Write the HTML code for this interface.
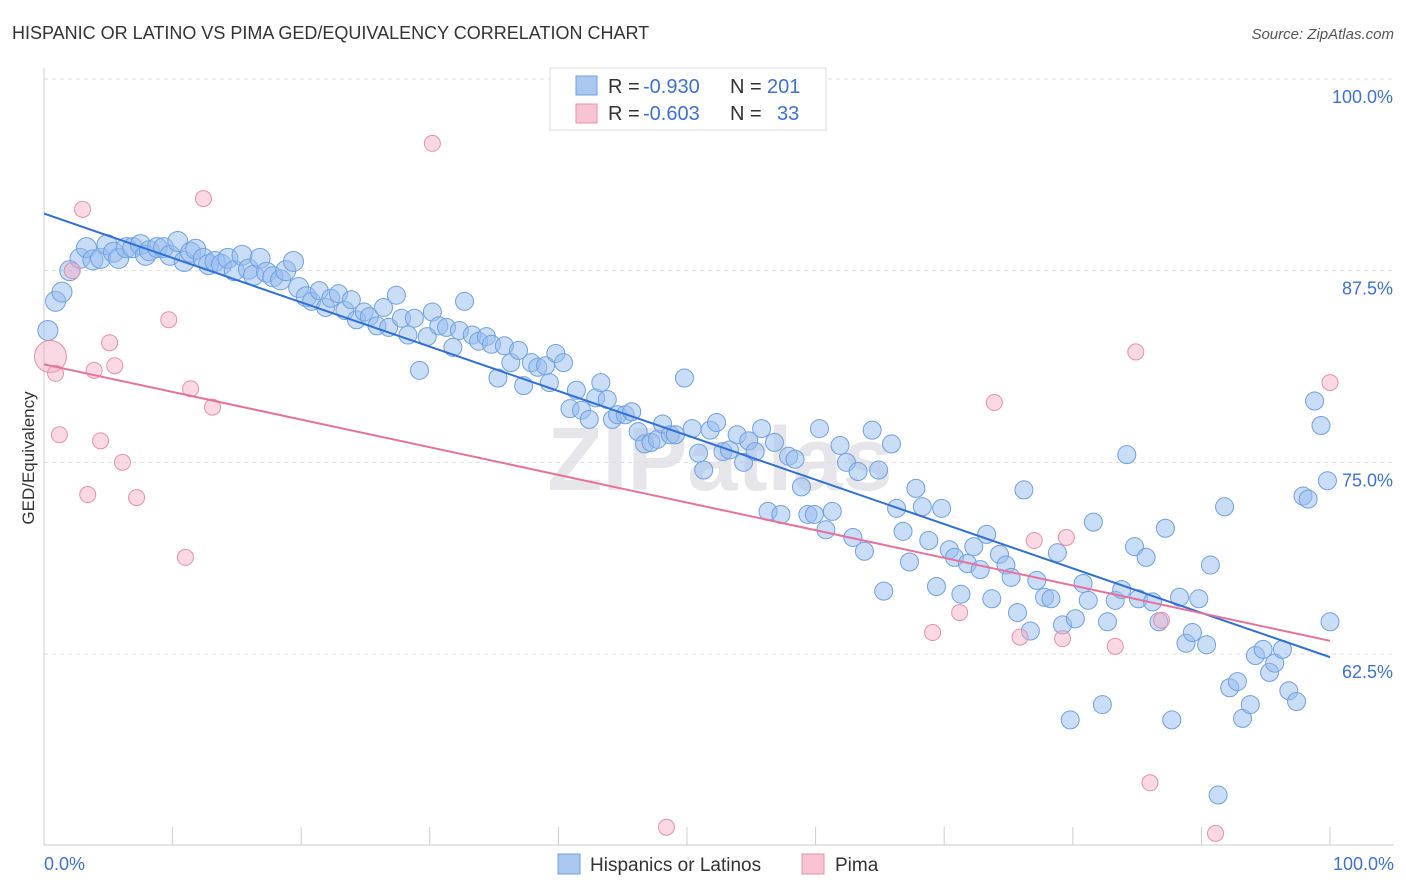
<!DOCTYPE html>
<html><head><meta charset="utf-8"><style>
body{margin:0;background:#fff;font-family:"Liberation Sans",sans-serif;}
svg{display:block}
</style></head><body>
<svg id="chart" width="1406" height="892">
<text x="12" y="39" font-size="18" fill="#333">HISPANIC OR LATINO VS PIMA GED/EQUIVALENCY CORRELATION CHART</text>
<text x="1394" y="39" font-size="15" fill="#555" font-style="italic" text-anchor="end">Source: ZipAtlas.com</text>
<text x="720" y="490" font-size="90" fill="#e6e6ea" text-anchor="middle" font-weight="bold">ZIPatlas</text>
<g id="grid"></g><g id="axes"></g><g id="marks"></g>
<text transform="translate(34,458) rotate(-90)" font-size="17" fill="#333" text-anchor="middle">GED/Equivalency</text>
<g>
<rect x="550" y="68" width="276" height="62" fill="#fff" stroke="#ddd"/>
<rect x="576" y="76" width="21" height="19" fill="#a9c8f0" stroke="#6fa0e0"/>
<rect x="576" y="104" width="21" height="19" fill="#f8c4d3" stroke="#e890a8"/>
<text x="608" y="93" font-size="20" fill="#333">R =</text>
<text x="643" y="93" font-size="20" fill="#3b72d8">-0.930</text>
<text x="730" y="93" font-size="20" fill="#333">N =</text>
<text x="767" y="93" font-size="20" fill="#3b72d8">201</text>
<text x="608" y="120" font-size="20" fill="#333">R =</text>
<text x="643" y="120" font-size="20" fill="#3b72d8">-0.603</text>
<text x="730" y="120" font-size="20" fill="#333">N =</text>
<text x="777" y="120" font-size="20" fill="#3b72d8">33</text>
</g>
<g>
<rect x="558" y="854" width="22" height="20" fill="#a9c8f0" stroke="#6fa0e0"/>
<text x="590" y="871" font-size="19" fill="#333">Hispanics or Latinos</text>
<rect x="802" y="854" width="22" height="20" fill="#f8c4d3" stroke="#e890a8"/>
<text x="835" y="871" font-size="19" fill="#333">Pima</text>
</g>
</svg>
<script>
const yTicks=[100,87.5,75,62.5];
const yTickLabels=["100.0%","87.5%","75.0%","62.5%"];
const xTickCount=10;
const blueX=[0.3,0.9,1.4,2.0,2.8,3.3,3.8,4.4,4.9,5.4,5.8,6.4,6.9,7.5,7.9,8.2,8.8,9.3,9.8,10.4,10.9,11.4,11.8,12.4,12.8,13.3,13.8,14.3,14.8,15.4,15.9,16.3,16.8,17.3,17.8,18.4,18.8,19.4,19.8,20.4,20.8,21.4,21.9,22.3,22.9,23.4,23.9,24.3,24.9,25.3,25.9,26.4,26.8,27.4,27.8,28.3,28.8,29.2,29.8,30.2,30.7,31.3,31.8,32.3,32.7,33.3,33.8,34.4,34.8,35.3,35.8,36.3,36.9,37.3,37.9,38.4,39.0,39.3,39.8,40.4,40.9,41.4,41.8,42.4,42.9,43.3,43.8,44.2,44.6,45.2,45.7,46.2,46.7,47.2,47.7,48.1,48.7,49.1,49.8,50.4,50.9,51.3,51.8,52.3,52.8,53.3,53.9,54.4,54.8,55.3,55.8,56.3,56.8,57.3,57.9,58.4,58.9,59.4,59.9,60.3,60.8,61.3,61.9,62.4,62.9,63.3,63.8,64.4,64.9,65.3,65.9,66.3,66.8,67.3,67.8,68.3,68.8,69.4,69.8,70.4,70.8,71.3,71.8,72.3,72.8,73.3,73.7,74.3,74.8,75.2,75.7,76.2,76.7,77.2,77.8,78.3,78.8,79.2,79.8,80.2,80.8,81.2,81.6,82.3,82.7,83.3,83.8,84.2,84.8,85.1,85.7,86.2,86.7,87.2,87.7,88.3,88.8,89.3,89.8,90.4,90.7,91.3,91.8,92.2,92.8,93.2,93.8,94.2,94.8,95.3,95.7,96.3,96.8,97.4,97.9,98.3,98.8,99.3,99.8,100.0];
const blueY=[83.6,85.5,86.1,87.5,88.3,89.0,88.2,88.3,89.2,88.7,88.3,89.0,89.0,89.2,88.5,88.8,89.0,89.0,88.5,89.4,88.1,88.7,88.9,88.3,87.9,88.1,87.9,88.3,87.5,88.5,87.6,87.2,88.3,87.4,87.1,86.9,87.5,88.1,86.4,85.8,85.5,86.2,85.1,85.7,86.0,84.9,85.6,84.3,84.8,84.5,83.9,85.1,83.8,85.9,84.4,83.3,84.4,81.0,83.2,84.8,83.9,83.8,82.5,83.6,85.5,83.3,82.9,83.2,82.7,80.5,82.6,81.5,82.3,80.0,81.5,81.2,81.3,80.2,82.1,81.5,78.5,79.7,78.4,77.8,79.2,80.2,79.1,77.8,78.1,78.1,78.3,77.0,76.2,76.3,76.5,77.5,76.8,76.8,80.5,77.2,75.6,74.5,77.1,77.6,75.7,75.8,76.8,75.0,76.4,75.7,77.2,71.8,76.3,71.6,75.4,75.2,73.4,71.6,71.6,77.2,70.6,71.8,76.1,75.0,70.1,74.4,69.2,77.1,74.5,66.6,76.2,72.0,70.5,68.5,73.3,72.1,69.9,66.9,72.0,69.3,68.8,66.4,68.4,69.5,68.0,70.3,66.1,69.0,68.3,67.5,65.2,73.2,64.0,67.3,66.2,66.1,69.1,64.4,58.2,64.8,67.1,66.0,71.1,59.2,64.6,66.0,66.7,75.5,69.5,66.1,68.8,65.9,64.6,70.7,58.2,66.2,63.2,63.9,66.1,63.1,68.3,53.3,72.1,60.3,60.7,58.3,59.2,62.4,62.8,61.3,61.9,62.8,60.1,59.4,72.8,72.6,79.0,77.4,73.8,64.6];
const pinkX=[0.5,0.9,1.2,2.2,3.0,3.4,3.9,4.4,5.1,5.5,6.1,7.2,9.7,11.0,11.4,12.4,13.1,30.2,48.4,69.1,71.2,73.9,75.9,77.0,79.2,79.5,83.3,84.9,86.0,86.9,91.1,100.0];
const pinkY=[81.9,80.8,76.8,87.5,91.5,72.9,81.0,76.4,82.8,81.3,75.0,72.7,84.3,68.8,79.8,92.2,78.6,95.8,51.2,63.9,65.2,78.9,63.6,69.9,63.5,70.1,63.0,82.2,54.1,64.7,50.8,80.2];
const NS="http://www.w3.org/2000/svg";
const X=v=>44+v*12.86, Y=v=>79+(100-v)*15.333;
function mk(tag,a,p){const e=document.createElementNS(NS,tag);for(const k in a)e.setAttribute(k,a[k]);p.appendChild(e);return e;}
const grid=document.getElementById('grid'),axes=document.getElementById('axes'),marks=document.getElementById('marks');
yTicks.forEach((t,i)=>{
 const l=mk('line',{x1:44,x2:1394,y1:Y(t),y2:Y(t),stroke:'#ddd','stroke-dasharray':'4,4'},grid);
 
 
 const tx=mk('text',{x:1393,y:Y(t)+24,'font-size':18,fill:'#3b72d8','text-anchor':'end'},axes);
 tx.textContent=yTickLabels[i];
 
 
});
const ax=mk('line',{x1:44,x2:1394,y1:845,y2:845,stroke:'#ccc'},axes);


const ay=mk('line',{x1:44,x2:44,y1:68,y2:845,stroke:'#ccc'},axes);


for(let i=0;i<=xTickCount;i++){
 const t=mk('line',{x1:X(i*10),x2:X(i*10),y1:827,y2:845,stroke:'#ccc'},axes);
 
 
}
const x0=mk('text',{x:44,y:870,'font-size':18,fill:'#3b72d8'},axes);x0.textContent='0.0%';


const x1=mk('text',{x:1394,y:870,'font-size':18,fill:'#3b72d8','text-anchor':'end'},axes);x1.textContent='100.0%';


function fit(xs,ys){const n=xs.length;let mx=0,my=0;for(let i=0;i<n;i++){mx+=xs[i];my+=ys[i];}mx/=n;my/=n;let sxy=0,sxx=0;for(let i=0;i<n;i++){sxy+=(xs[i]-mx)*(ys[i]-my);sxx+=(xs[i]-mx)**2;}const b=sxy/sxx;return [my-b*mx,b];}
blueX.forEach((v,i)=>{
 const c=mk('circle',{cx:X(v),cy:Y(blueY[i]),r:i<40?10:9,fill:'rgba(150,188,240,0.5)',stroke:'#6fa0e0','stroke-width':1},marks);
 
 
});
pinkX.forEach((v,i)=>{
 const c=mk('circle',{cx:X(v),cy:Y(pinkY[i]),r:i===0?16:8,fill:'rgba(245,170,195,0.45)',stroke:'#e890a8','stroke-width':1},marks);
 
 
});
const [ba,bb]=fit(blueX,blueY);
const bl=mk('line',{x1:X(0),y1:Y(ba),x2:X(100),y2:Y(ba+bb*100),stroke:'#2f6fd8','stroke-width':2},marks);


const [pa,pb]=fit(pinkX,pinkY);
const pl=mk('line',{x1:X(0),y1:Y(pa),x2:X(100),y2:Y(pa+pb*100),stroke:'#e8719a','stroke-width':2},marks);


</script>
</body></html>
